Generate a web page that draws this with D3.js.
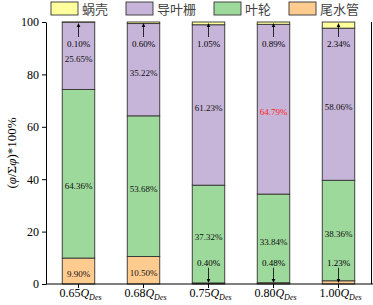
<!DOCTYPE html>
<html>
<head>
<meta charset="utf-8">
<script src="https://cdn.jsdelivr.net/npm/d3@7"></script>
<style>
body { margin: 0; background: #fff; }
</style>
</head>
<body>
<div id="chart"></div>
<script>
// Flow rates (multiples of Q_Des) and loss shares per component, in %
const flows = ["0.65", "0.68", "0.75", "0.80", "1.00"];
const draftTube = [9.90, 10.50, 0.40, 0.48, 1.23];
const impeller = [64.36, 53.68, 37.32, 33.84, 38.36];
const guideVanes = [25.65, 35.22, 61.23, 64.79, 58.06];
const volute = [0.10, 0.60, 1.05, 0.89, 2.34];
const yTicks = [0, 20, 40, 60, 80, 100];

const keys = ["尾水管", "叶轮", "导叶栅", "蜗壳"];        // stacked bottom -> top
const legendKeys = ["蜗壳", "导叶栅", "叶轮", "尾水管"];
const colors = { "蜗壳": "#FFFF9E", "导叶栅": "#C6B5D8", "叶轮": "#9ED99C", "尾水管": "#FFCB8F" };

const rows = flows.map((f, i) => ({
    flow: f,
    "尾水管": draftTube[i],
    "叶轮": impeller[i],
    "导叶栅": guideVanes[i],
    "蜗壳": volute[i]
}));

const W = 373, H = 305;
const svg = d3.select("#chart").append("svg")
    .attr("width", W).attr("height", H)
    .style("font-family", "'Liberation Serif', 'Times New Roman', serif");

const x = d3.scaleBand().domain(flows).range([46, 371]).paddingInner(0.5).paddingOuter(0.25);
const y = d3.scaleLinear().domain([0, 100]).range([284, 22]);

const stacked = d3.stack().keys(keys)(rows);

// bars
svg.append("g").selectAll("g")
    .data(stacked)
    .join("g")
    .attr("fill", d => colors[d.key])
    .selectAll("rect")
    .data(d => d)
    .join("rect")
    .attr("x", d => x(d.data.flow))
    .attr("y", d => y(d[1]))
    .attr("width", x.bandwidth())
    .attr("height", d => y(d[0]) - y(d[1]))
    .attr("stroke", "#333")
    .attr("stroke-width", 0.9);

// value labels
const maxGV = d3.max(guideVanes);
const labels = svg.append("g").attr("font-size", 9).attr("text-anchor", "middle");
stacked.forEach(layer => {
    layer.forEach((d, i) => {
        const v = d.data[layer.key];
        const cx = x(d.data.flow) + x.bandwidth() / 2;
        const txt = v.toFixed(2) + "%";
        if (v < 3) {
            // small slices: label with an arrow pointing at the bar end
            const top = layer.key === "蜗壳";
            const ly = top ? y(91.6) : y(8.1);
            labels.append("text").attr("x", cx).attr("y", ly).attr("dy", "0.35em").text(txt);
            const y1 = top ? ly - 7 : ly + 5;
            const y2 = top ? y(100) + 1 : y(0) - 1;
            labels.append("line").attr("x1", cx).attr("x2", cx)
                .attr("y1", y1).attr("y2", top ? y2 + 3 : y2 - 3)
                .attr("stroke", "#000").attr("stroke-width", 0.8);
            const dir = top ? 1 : -1;
            labels.append("path")
                .attr("d", `M${cx},${y2}L${cx - 1.8},${y2 + dir * 4}L${cx + 1.8},${y2 + dir * 4}Z`)
                .attr("fill", "#000");
        } else {
            let ly = (y(d[0]) + y(d[1])) / 2 + 3;
            if (layer.key === "叶轮" && i === 0) ly += 9;
            labels.append("text").attr("x", cx).attr("y", ly).attr("dy", "0.35em")
                .attr("fill", layer.key === "导叶栅" && v === maxGV ? "#FF2020" : "#111")
                .text(txt);
        }
    });
});

// axes
const yAxis = svg.append("g")
    .attr("transform", "translate(46,0)")
    .call(d3.axisLeft(y).tickValues(yTicks).tickSize(4).tickSizeOuter(0));
yAxis.selectAll("text").attr("font-size", 12).attr("font-family", "'Liberation Serif', serif").attr("fill", "#000");

const xAxis = svg.append("g")
    .attr("transform", "translate(0,284)")
    .call(d3.axisBottom(x).tickSize(4).tickSizeOuter(0).tickFormat(""));
xAxis.select(".domain").attr("d", "M46,0H373");

svg.append("line").attr("x1", 371.5).attr("x2", 371.5).attr("y1", y(100)).attr("y2", y(0))
    .attr("stroke", "#000");

// x tick labels: 0.65 Q_Des
const xl = svg.append("g").attr("font-size", 12).attr("text-anchor", "middle");
flows.forEach(f => {
    const t = xl.append("text").attr("x", x(f) + x.bandwidth() / 2 + 2).attr("y", 297);
    t.append("tspan").text(f);
    t.append("tspan").attr("font-style", "italic").text("Q");
    t.append("tspan").attr("font-style", "italic").attr("font-size", 8).attr("dy", 3).text("Des");
});

// y title
const yt = svg.append("text")
    .attr("transform", `translate(16,${(y(0) + y(100)) / 2}) rotate(-90)`)
    .attr("text-anchor", "middle").attr("font-size", 13);
yt.append("tspan").text("(");
yt.append("tspan").attr("font-style", "italic").text("φ");
yt.append("tspan").text("/Σ");
yt.append("tspan").attr("font-style", "italic").text("φ");
yt.append("tspan").text(")*100%");

// legend
const fs = 13;
const legend = svg.append("g").attr("font-family", "'Noto Sans CJK SC', sans-serif").attr("font-size", fs);
let lx = 51;
legendKeys.forEach(k => {
    legend.append("rect").attr("x", lx).attr("y", 2).attr("width", 27).attr("height", 13)
        .attr("fill", colors[k]).attr("stroke", "#333").attr("stroke-width", 0.9);
    legend.append("text").attr("x", lx + 31).attr("y", 13.5).attr("fill", "#444")
        .attr("textLength", k.length * fs).text(k);
    lx += 31 + k.length * fs + 18;
});
</script>
</body>
</html>
